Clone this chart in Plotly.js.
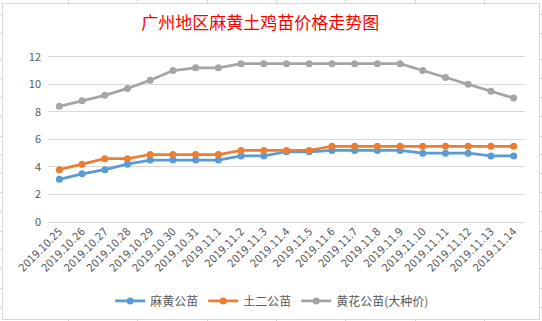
<!DOCTYPE html>
<html><head><meta charset="utf-8">
<script src="https://cdn.plot.ly/plotly-3.0.1.min.js"></script>
<style>
html,body{margin:0;padding:0;background:#fff;width:542px;height:321px;overflow:hidden;position:relative;}
.gl{position:absolute;background:#D4D4D4;}
#chart{position:absolute;left:2px;top:3px;width:536px;height:315px;border:1px solid #D9D9D9;background:#fff;}
</style></head><body>
<div id="chart"></div>
<script>
var categories = ["2019.10.25","2019.10.26","2019.10.27","2019.10.28","2019.10.29","2019.10.30","2019.10.31","2019.11.1","2019.11.2","2019.11.3","2019.11.4","2019.11.5","2019.11.6","2019.11.7","2019.11.8","2019.11.9","2019.11.10","2019.11.11","2019.11.12","2019.11.13","2019.11.14"];
var mahuang = [3.1,3.5,3.8,4.2,4.5,4.5,4.5,4.5,4.8,4.8,5.1,5.1,5.2,5.2,5.2,5.2,5.0,5.0,5.0,4.8,4.8];
var tuer = [3.8,4.2,4.6,4.6,4.9,4.9,4.9,4.9,5.2,5.2,5.2,5.2,5.5,5.5,5.5,5.5,5.5,5.5,5.5,5.5,5.5];
var huanghua = [8.4,8.8,9.2,9.7,10.3,11.0,11.2,11.2,11.5,11.5,11.5,11.5,11.5,11.5,11.5,11.5,11.0,10.5,10.0,9.5,9.0];
var seriesNames = ["麻黄公苗","土二公苗","黄花公苗(大种价)"];
var yTicks = [0,2,4,6,8,10,12];

// spreadsheet grid behind the chart
var body = document.body;
var vx = [68,137,207,276,345,415,484];
vx.forEach(function(x){var d=document.createElement('div');d.className='gl';d.style.left=x+'px';d.style.top='0px';d.style.width='1px';d.style.height='321px';body.insertBefore(d,body.firstChild);});
var hy = [14,33,59,78,97,116,136,154,173,192,211,231,249,268,288,307];
hy.forEach(function(y){var d=document.createElement('div');d.className='gl';d.style.left='0px';d.style.top=y+'px';d.style.width='542px';d.style.height='1px';body.insertBefore(d,body.firstChild);});

var colors = ["#5B9BD5","#ED7D31","#A5A5A5"];
var vals = [mahuang, tuer, huanghua];
var traces = vals.map(function(v,i){
  return {x:categories, y:v, name:seriesNames[i], type:'scatter', mode:'lines+markers',
    line:{color:colors[i], width:2.75}, marker:{color:colors[i], size:7}};
});
var layout = {
  width:536, height:315,
  margin:{l:45,r:14,t:50,b:97, autoexpand:false},
  paper_bgcolor:'#fff', plot_bgcolor:'#fff',
  title:{text:'广州地区麻黄土鸡苗价格走势图', font:{family:'Noto Sans CJK SC', size:17, color:'#FF0000'}, x:0.48, xanchor:'center', y:0.94, yanchor:'middle', automargin:false},
  font:{family:'Noto Sans CJK SC, DejaVu Sans', color:'#595959', size:10},
  xaxis:{type:'category', range:[-0.5, categories.length-0.5], tickangle:-45, showgrid:false, showline:false, ticks:'', tickfont:{size:11, color:'#595959', family:'DejaVu Sans Condensed, DejaVu Sans'}, automargin:false, fixedrange:true},
  yaxis:{range:[0,12.2], tickvals:yTicks, showgrid:true, gridcolor:'#D9D9D9', gridwidth:1, zeroline:true, zerolinecolor:'#D9D9D9', showline:false, ticks:'', tickfont:{size:11, color:'#595959'}, ticklabelstandoff:6, automargin:false},
  showlegend:true,
  legend:{orientation:'h', x:0.47, xanchor:'center', y:-0.47, yanchor:'middle', font:{size:12, color:'#595959'}, itemwidth:30, tracegroupgap:0}
};
Plotly.newPlot('chart', traces, layout, {displayModeBar:false, staticPlot:true});
</script>
</body></html>
